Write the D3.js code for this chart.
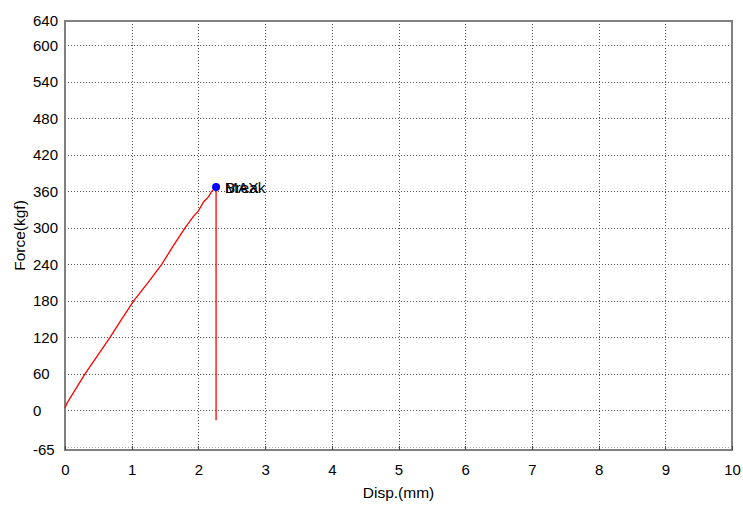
<!DOCTYPE html>
<html>
<head>
<meta charset="utf-8">
<script src="https://cdn.jsdelivr.net/npm/d3@7/dist/d3.min.js"></script>
<style>
  body { margin: 0; background: #fff; }
  svg { display: block; font-family: Arial, "Liberation Sans", sans-serif; }
</style>
</head>
<body>
<svg id="chart" width="743" height="507"></svg>
<script>
// test curve
const disp = [0, 0.03, 0.12, 0.3, 0.48, 0.675, 0.85, 1.03, 1.25, 1.45, 1.62, 1.8, 1.92, 2.0, 2.08, 2.15, 2.2, 2.265, 2.265]
const force = [4, 12, 28, 60, 89, 120, 150, 180, 211, 240, 270, 300, 318, 328, 343, 351, 360, 367, -16]

const maxPoint = [2.265, 367]
const markerLabels = ['Break', 'MAX']

const xTicks = [0, 1, 2, 3, 4, 5, 6, 7, 8, 9, 10]
const yTicks = [-65, 0, 60, 120, 180, 240, 300, 360, 420, 480, 540, 600, 640]
const yGrid = [-60, 0, 60, 120, 180, 240, 300, 360, 420, 480, 540, 600]

const frameGrey = '#808080'
const gridGrey = '#555555'

const svg = d3.select('#chart')
const plotLeft = 65, plotRight = 732, plotTop = 21, plotBottom = 450

const x = d3.scaleLinear().domain([0, 10]).range([plotLeft, plotRight])
const y = d3.scaleLinear().domain([-65, 640]).range([plotBottom, plotTop])

/* Grid */
const grid = svg.append('g')
  .attr('stroke', gridGrey)
  .attr('stroke-width', 1)
  .attr('stroke-dasharray', '1,2')

xTicks.slice(1, -1).forEach(d => {
  grid.append('line')
    .attr('x1', Math.round(x(d)) + 0.5)
    .attr('x2', Math.round(x(d)) + 0.5)
    .attr('y1', plotTop)
    .attr('y2', plotBottom)
})

yGrid.forEach(d => {
  grid.append('line')
    .attr('x1', plotLeft)
    .attr('x2', plotRight)
    .attr('y1', Math.round(y(d)) + 0.5)
    .attr('y2', Math.round(y(d)) + 0.5)
    .attr('stroke', d === -60 ? '#aaaaaa' : gridGrey)
})

/* Frame */
svg.append('rect')
  .attr('x', plotLeft)
  .attr('y', plotTop)
  .attr('width', plotRight - plotLeft)
  .attr('height', plotBottom - plotTop)
  .attr('fill', 'none')
  .attr('stroke', frameGrey)
  .attr('stroke-width', 2)

// little ticks on the bottom axis
xTicks.forEach(d => {
  svg.append('line')
    .attr('x1', Math.round(x(d)) + 0.5)
    .attr('x2', Math.round(x(d)) + 0.5)
    .attr('y1', plotBottom - 4)
    .attr('y2', plotBottom)
    .attr('stroke', '#444')
})

/* Tick labels */
const xAxis = d3.axisBottom(x).tickValues(xTicks).tickSize(0).tickPadding(14)
svg.append('g')
  .attr('transform', `translate(0,${plotBottom})`)
  .call(xAxis)
  .call(g => g.select('.domain').remove())
  .selectAll('text')
  .attr('font-size', 15)
  .attr('font-family', 'Arial, "Liberation Sans", sans-serif')
  .attr('fill', '#000')

// y labels are left aligned in the original
svg.append('g')
  .selectAll('text')
  .data(yTicks)
  .join('text')
  .attr('x', 33)
  .attr('y', d => y(d))
  .attr('dy', '0.35em')
  .attr('font-size', 15)
  .attr('fill', '#000')
  .text(d => d)

/* Axis titles */
svg.append('text')
  .attr('x', (plotLeft + plotRight) / 2)
  .attr('y', 498)
  .attr('text-anchor', 'middle')
  .attr('font-size', 15.5)
  .text('Disp.(mm)')

svg.append('text')
  .attr('transform', `translate(25,${(plotTop + plotBottom) / 2}) rotate(-90)`)
  .attr('text-anchor', 'middle')
  .attr('font-size', 15.5)
  .text('Force(kgf)')

/* Curve */
const line = d3.line()
  .x((d, i) => x(disp[i]))
  .y((d, i) => y(force[i]))

svg.append('path')
  .datum(disp)
  .attr('d', line)
  .attr('fill', 'none')
  .attr('stroke', '#ff0000')
  .attr('stroke-width', 1.3)

svg.append('circle')
  .attr('cx', x(maxPoint[0]))
  .attr('cy', y(maxPoint[1]))
  .attr('r', 4)
  .attr('fill', '#0000ff')

// both marker names sit on the same spot, as in the original
svg.append('g')
  .selectAll('text')
  .data(markerLabels)
  .join('text')
  .attr('x', x(maxPoint[0]) + 9)
  .attr('y', y(maxPoint[1]))
  .attr('dy', '0.35em')
  .attr('font-size', 15.5)
  .attr('fill', '#000')
  .text(d => d)
</script>
</body>
</html>
